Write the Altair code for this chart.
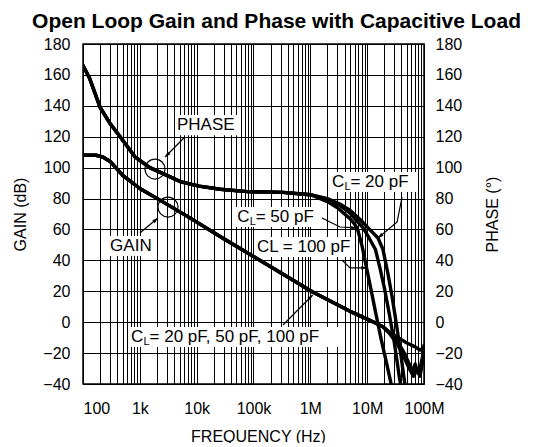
import altair as alt
import pandas as pd

FONT = "Liberation Sans"

# ---------------- axis values ----------------
x_decades = [100, 1000, 10000, 100000, 1000000, 10000000, 100000000]
x_labels = ["100", "1k", "10k", "100k", "1M", "10M", "100M"]
y_ticks = [-40, -20, 0, 20, 40, 60, 80, 100, 120, 140, 160, 180]
grid_mult = [1, 2, 3, 4, 5, 6, 7, 8, 9]

# ---------------- gain (dB), common part ----------------
gain_f = [100, 170, 220, 300, 500, 1000, 2500, 7600, 30000, 100000, 300000,
          1100000, 5000000, 10000000, 19000000]
gain_db = [108, 108, 107, 104, 95, 86.5, 78, 67.5, 54, 42.5, 32, 19.5, 7, 2, -3]

# gain tails above 20 MHz
gain20_f = [25e6, 35e6, 50e6, 70e6, 85e6, 95e6, 100e6]
gain20_db = [-6.5, -10, -13.5, -16, -18, -17, -15]
gain50_f = [25e6, 35e6, 45e6, 55e6, 62e6, 70e6, 78e6, 86e6, 100e6]
gain50_db = [-7, -13, -20, -27, -32, -27, -33, -29, -18]
gain100_f = [25e6, 35e6, 45e6, 55e6, 65e6, 75e6, 85e6, 95e6, 100e6]
gain100_db = [-7.5, -15, -23, -30, -35, -30, -35, -25, -20]

# ---------------- phase (deg), common part ----------------
phase_f = [100, 130, 200, 300, 450, 820, 1500, 2800, 5100, 11000, 26000, 77000,
           330000, 1000000]
phase_deg = [166, 158, 139, 128.5, 120, 107, 100, 95.5, 91, 88, 86, 84.5, 84, 82.5]

# phase tails
phase20_f = [2e6, 3.3e6, 5e6, 7.5e6, 10.4e6, 15.5e6, 19e6, 20.5e6, 23.3e6, 27.6e6,
             32.3e6, 37.9e6, 44e6, 48e6]
phase20_deg = [80, 76.5, 72.5, 66.5, 61, 54.5, 47, 41, 31, 16, 0, -17, -35, -44]
phase50_f = [2e6, 3.3e6, 5e6, 7e6, 8.5e6, 11e6, 14e6, 16.8e6, 20.4e6, 24.6e6, 30e6,
             37e6, 41e6]
phase50_deg = [79.5, 75.5, 70.5, 64.5, 61, 54, 47, 35, 21, 5, -13, -36, -45]
phase100_f = [2e6, 3e6, 4e6, 5e6, 6e6, 6.8e6, 8.1e6, 9.9e6, 12e6, 14.5e6, 17.6e6,
              21.8e6, 26.8e6, 30e6]
phase100_deg = [78, 74, 70, 67, 63.5, 60, 49.5, 34, 19, 4, -11, -26, -41, -50]

# ---------------- annotations ----------------
# white label boxes: f, f2, v, v2
box_f = [4150, 275, 620, 2230000, 47200, 106000]
box_f2 = [51600, 1640, 3700000, 76600000, 1660000, 6100000]
box_v = [121, 42.8, -16.1, 84.2, 61.6, 42.2]
box_v2 = [134, 55.8, -3.1, 97.2, 74.5, 55.1]

# plain labels (left anchored)
plain_text = ["PHASE", "GAIN", "CL = 100 pF"]
plain_f = [4500, 300, 115000]
plain_v = [127.6, 49.5, 48.7]

# composite labels "C" + subscript "L" + rest
sub_rest = [" = 20 pF, 50 pF, 100 pF", " = 20 pF", " = 50 pF"]
sub_f = [700, 2400000, 51600]
sub_v = [-9.6, 90.7, 68.1]

# circles
circ_f = [1850, 3130]
circ_v = [99.1, 74.5]

# arrows / leaders (vertices in order; last vertex is the tip)
arrow_id = ["ph", "ph", "ga", "ga", "all", "all",
            "c20", "c20", "c20", "c50", "c50", "c50", "c100", "c100", "c100"]
arrow_f = [6200, 2780, 1000, 2080, 330000, 1100000,
           41100000, 33600000, 15500000, 1600000, 3330000, 6600000,
           3600000, 5000000, 9900000]
arrow_v = [119.8, 106.9, 57.7, 67.4, -1.8, 17.6,
           81, 64.8, 54.5, 67.4, 61.6, 61,
           40.2, 35.1, 35.1]
head_f = [2780, 2080, 1100000, 15500000, 6600000, 9900000]
head_v = [106.9, 67.4, 17.6, 54.5, 61, 35.1]
head_angle = [225, 50, 45, 230, 90, 90]

# ---------------- build tables ----------------
rows = []
def add(series, fs, vs):
    for i, (f, v) in enumerate(zip(fs, vs)):
        rows.append({"f": f, "v": v, "s": series, "o": i})

add("g20", gain_f + gain20_f, gain_db + gain20_db)
add("g50", gain_f + gain50_f, gain_db + gain50_db)
add("g100", gain_f + gain100_f, gain_db + gain100_db)
add("p20", phase_f + phase20_f, phase_deg + phase20_deg)
add("p50", phase_f + phase50_f, phase_deg + phase50_deg)
add("p100", phase_f + phase100_f, phase_deg + phase100_deg)
lines_df = pd.DataFrame(rows)

grid_vals = [d * m for d in x_decades[:-1] for m in grid_mult] + [x_decades[-1]]
label_expr = " : ".join(
    [f"datum.value == {v} ? '{l}'" for v, l in zip(x_decades, x_labels)]) + " : ''"

xscale = alt.Scale(type="log", domain=[100, 100000000], nice=False)
yscale = alt.Scale(domain=[-40, 180], nice=False, zero=False)

xaxis = alt.Axis(
    values=grid_vals, labelExpr=label_expr, grid=True, gridColor="black",
    gridWidth=1, gridOpacity=1, ticks=False, domain=False,
    labelFont=FONT, labelFontSize=16, labelColor="black", labelPadding=16,
    labelOverlap=False, labelFlush=False,
    labelAlign={"condition": {"test": "datum.value <= 100", "value": "left"},
                "value": "center"},
    title="FREQUENCY (Hz)", titleFont=FONT, titleFontSize=16,
    titleFontWeight="normal", titleColor="black", titleX=175, titleY=52,
    titleBaseline="middle", titleAlign="center")

yaxis_left = alt.Axis(
    values=y_ticks, grid=True, gridColor="black", gridWidth=1, gridOpacity=1,
    ticks=False, domain=False, labelFont=FONT, labelFontSize=16,
    labelColor="black", labelPadding=13,
    title="GAIN (dB)", titleFont=FONT, titleFontSize=16, titleFontWeight="normal",
    titleColor="black", titleX=-63, titleY=170, titleAngle=270,
    titleAlign="center", titleBaseline="middle")

yaxis_right = alt.Axis(
    orient="right", values=y_ticks, grid=False, ticks=False, domain=False,
    labelFont=FONT, labelFontSize=16, labelColor="black", labelPadding=11,
    title="PHASE (°)", titleFont=FONT, titleFontSize=16, titleFontWeight="normal",
    titleColor="black", titleX=68, titleY=170, titleAngle=270,
    titleAlign="center", titleBaseline="middle")

X = alt.X("f:Q", scale=xscale, axis=xaxis)
X2 = alt.X2("f2")
def Y(axis=None):
    return alt.Y("v:Q", scale=yscale, axis=axis)

boxes = alt.Chart(pd.DataFrame({"f": box_f, "f2": box_f2, "v": box_v, "v2": box_v2})).mark_rect(
    fill="white").encode(x=X, x2=X2, y=Y(yaxis_left), y2=alt.Y2("v2"))

lines = alt.Chart(lines_df).mark_line(
    color="black", strokeWidth=3.4, clip=True, strokeCap="round", strokeJoin="round"
).encode(x=X, y=Y(yaxis_right), detail="s:N", order="o:Q")

arrows_df = pd.DataFrame({"id": arrow_id, "f": arrow_f, "v": arrow_v,
                          "o": list(range(len(arrow_id)))})
arrows = alt.Chart(arrows_df).mark_line(color="black", strokeWidth=1.2).encode(
    x=X, y=Y(), detail="id:N", order="o:Q")

heads = alt.Chart(pd.DataFrame({"f": head_f, "v": head_v, "a": head_angle})).mark_point(
    shape="M0,0 L-0.4,1.2 L0.4,1.2 Z", filled=True, color="black", size=90, opacity=1
).encode(x=X, y=Y(), angle=alt.Angle("a:Q", scale=None))

circles = alt.Chart(pd.DataFrame({"f": circ_f, "v": circ_v})).mark_point(
    shape="circle", filled=False, color="black", size=400, strokeWidth=1.2, opacity=1
).encode(x=X, y=Y())

plain = alt.Chart(pd.DataFrame({"f": plain_f, "v": plain_v, "t": plain_text})).mark_text(
    align="left", baseline="middle", font=FONT, fontSize=17, color="black"
).encode(x=X, y=Y(), text="t:N")

sub_df = pd.DataFrame({"f": sub_f, "v": sub_v, "t": sub_rest})
c_txt = alt.Chart(sub_df).mark_text(
    align="left", baseline="middle", font=FONT, fontSize=17, color="black"
).encode(x=X, y=Y(), text=alt.value("C"))
l_txt = alt.Chart(sub_df).mark_text(
    align="left", baseline="middle", font=FONT, fontSize=11, color="black", dx=12.5, dy=5
).encode(x=X, y=Y(), text=alt.value("L"))
rest_txt = alt.Chart(sub_df).mark_text(
    align="left", baseline="middle", font=FONT, fontSize=17, color="black", dx=18.5
).encode(x=X, y=Y(), text="t:N")

chart = alt.layer(
    boxes, lines, arrows, heads, circles, plain, c_txt, l_txt, rest_txt
).resolve_axis(y="independent").properties(
    width=341, height=340,
    autosize="none",
    padding={"left": 75, "top": 36, "right": 103, "bottom": 59},
    title=alt.TitleParams(
        "Open Loop Gain and Phase with Capacitive Load", font=FONT, fontSize=21,
        fontWeight="bold", color="black", anchor="middle", dx=23, offset=4),
).configure_view(stroke="black", strokeWidth=1.5)

chart.save("out.html", embed_options={"renderer": "svg", "actions": False})
